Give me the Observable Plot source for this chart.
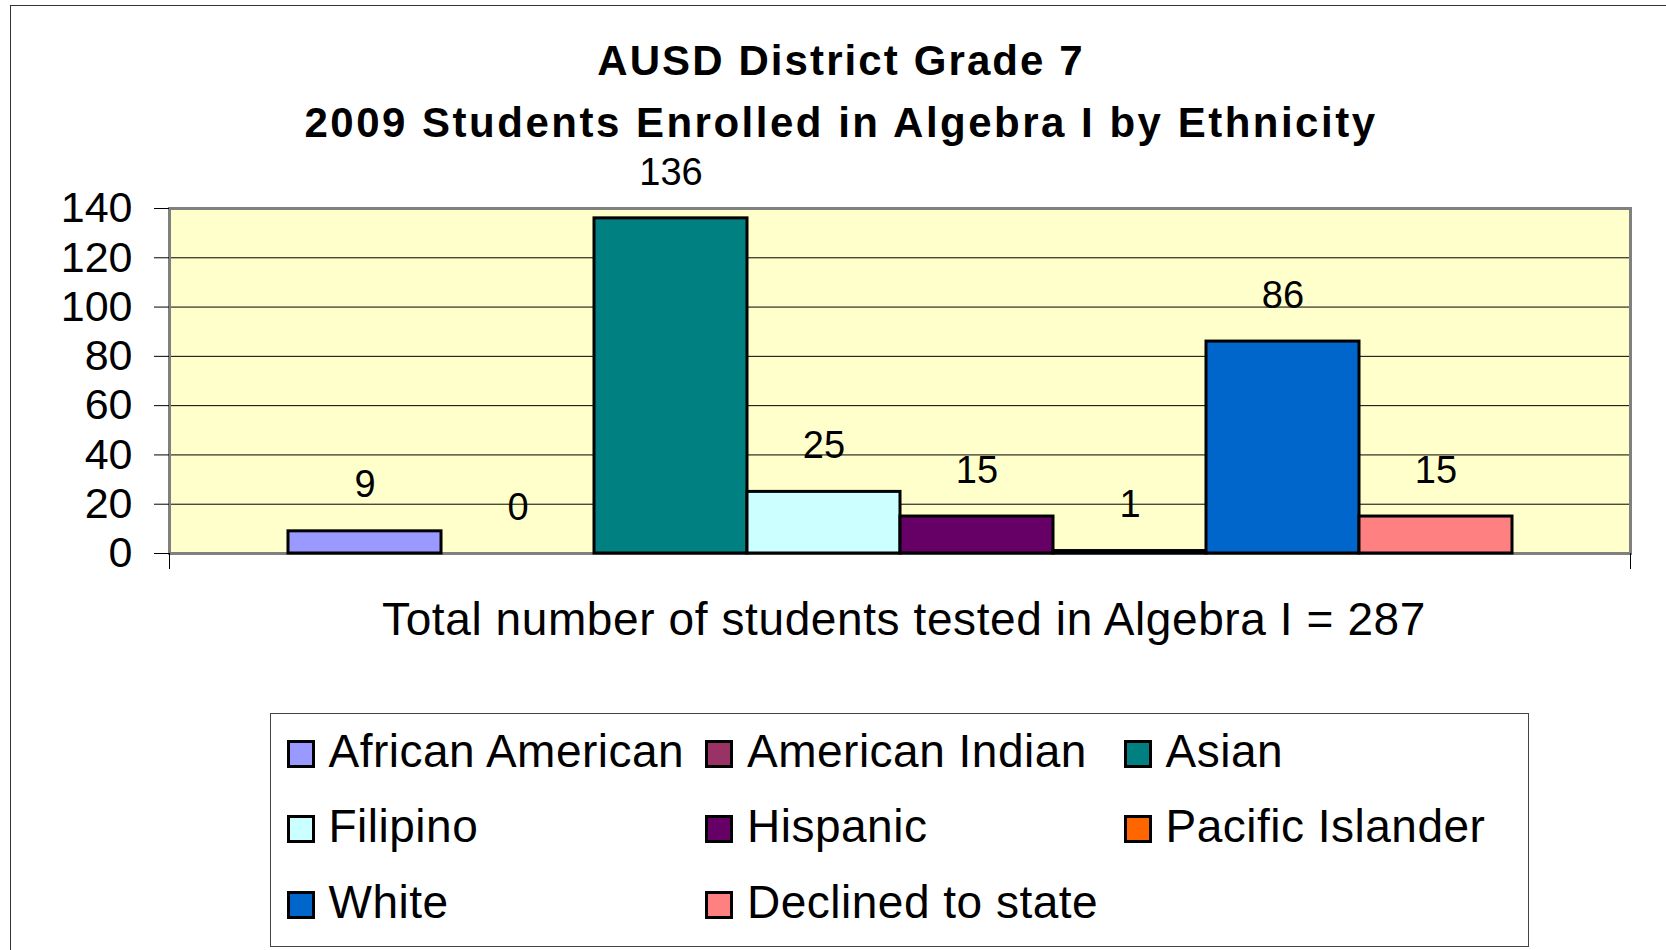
<!DOCTYPE html>
<html>
<head>
<meta charset="utf-8">
<script src="https://cdn.jsdelivr.net/npm/d3@7"></script>
<script src="https://cdn.jsdelivr.net/npm/@observablehq/plot@0.6"></script>
<style>
  html, body { margin: 0; padding: 0; width: 1666px; height: 950px; overflow: hidden; background: #fff;
    font-family: "Liberation Sans", Arial, sans-serif; color: #000; }
  #wrap { position: relative; width: 1666px; height: 950px; overflow: hidden; }
  #outer { position: absolute; left: 10px; top: 5px; width: 1700px; height: 1000px;
    border-left: 1.5px solid #333; border-top: 1.5px solid #333; box-sizing: border-box; }
  #chart { position: absolute; left: 0; top: 0; }
  .title { position: absolute; font-weight: bold; font-size: 42px; line-height: 42px; white-space: nowrap;
    transform: translateX(-50%); }
  #caption { position: absolute; font-size: 46px; line-height: 46px; white-space: nowrap; transform: translateX(-50%);
    letter-spacing: 0.6px; }
  #legend { position: absolute; left: 270px; top: 713px; width: 1259px; height: 234px;
    border: 1.5px solid #444; box-sizing: border-box; background: #fff; }
  .sw { position: absolute; width: 28px; height: 28px; border: 3px solid #000; box-sizing: border-box; }
  .lt { position: absolute; font-size: 46px; line-height: 46px; white-space: nowrap; letter-spacing: 0.5px; }
</style>
</head>
<body>
<div id="wrap">
  <div id="outer"></div>
  <div id="chart"></div>
</div>
<script>
// ---- data ----
const categories = ["African American", "American Indian", "Asian", "Filipino", "Hispanic", "Pacific Islander", "White", "Declined to state"];
const counts = [9, 0, 136, 25, 15, 1, 86, 15];
const colors = ["#9999FF", "#993366", "#008080", "#CCFFFF", "#660066", "#FF6600", "#0066CC", "#FF8080"];
const yTicks = [0, 20, 40, 60, 80, 100, 120, 140];
const titleLines = ["AUSD District Grade 7", "2009 Students Enrolled in Algebra I by Ethnicity"];
const captionText = "Total number of students tested in Algebra I = 287";

const rows = categories.map((c, i) => ({category: c, count: counts[i]}));
const font = '"Liberation Sans", Arial, sans-serif';

const chart = Plot.plot({
  width: 1666,
  height: 600,
  marginLeft: 169,
  marginRight: 36,
  marginTop: 208,
  marginBottom: 47,
  style: {fontFamily: font, background: "transparent", overflow: "visible", color: "#000"},
  x: {type: "band", domain: categories, paddingInner: 0, paddingOuter: 0.751, axis: null},
  y: {domain: [0, 140], axis: null},
  color: {domain: categories, range: colors},
  marks: [
    Plot.frame({fill: "#FFFFCC"}),
    Plot.gridY(yTicks.slice(1, -1), {stroke: "#000", strokeOpacity: 1, strokeWidth: 1}),
    Plot.frame({stroke: "#808080", strokeWidth: 3}),
    Plot.axisY(yTicks, {tickSize: 15, tickPadding: 22, fontSize: 43, label: null, stroke: "#000"}),
    Plot.barY(rows, {x: "category", y: "count", fill: "category", stroke: "#000", strokeWidth: 3}),
    Plot.text(rows, {x: "category", y: "count", text: d => String(d.count), dy: -46, fontSize: 38, fill: "#000"}),
    Plot.frame({anchor: "left", stroke: "#000", strokeWidth: 1, insetTop: 345, insetBottom: -15}),
    Plot.frame({anchor: "right", stroke: "#000", strokeWidth: 1, insetTop: 345, insetBottom: -15})
  ]
});
document.getElementById("chart").appendChild(chart);

const wrap = document.getElementById("wrap");
// titles
const titleTops = [39.5, 101.5];
const titleSpacing = [2.1, 2.5];
titleLines.forEach((t, i) => {
  const d = document.createElement("div");
  d.className = "title";
  d.style.left = "841px";
  d.style.top = titleTops[i] + "px";
  d.style.letterSpacing = titleSpacing[i] + "px";
  d.textContent = t;
  wrap.appendChild(d);
});
// caption
const cap = document.createElement("div");
cap.id = "caption";
cap.style.left = "904px";
cap.style.top = "596px";
cap.textContent = captionText;
wrap.appendChild(cap);

// legend
const legend = document.createElement("div");
legend.id = "legend";
wrap.appendChild(legend);
categories.forEach((c, i) => {
  const col = i % 3, row = Math.floor(i / 3);
  const baseline = 767 + row * 75.5;
  const sx = 287 + col * 418.5;
  const sw = document.createElement("div");
  sw.className = "sw";
  sw.style.left = (sx - 270 - 1.5) + "px";
  sw.style.top = (baseline - 27 - 713 - 1.5) + "px";
  sw.style.background = colors[i];
  legend.appendChild(sw);
  const lt = document.createElement("div");
  lt.className = "lt";
  lt.style.left = (sx + 42 - 270 - 1.5) + "px";
  lt.style.top = (baseline - 0.8465 * 46 - 713 - 1.5) + "px";
  lt.textContent = c;
  legend.appendChild(lt);
});
</script>
</body>
</html>
